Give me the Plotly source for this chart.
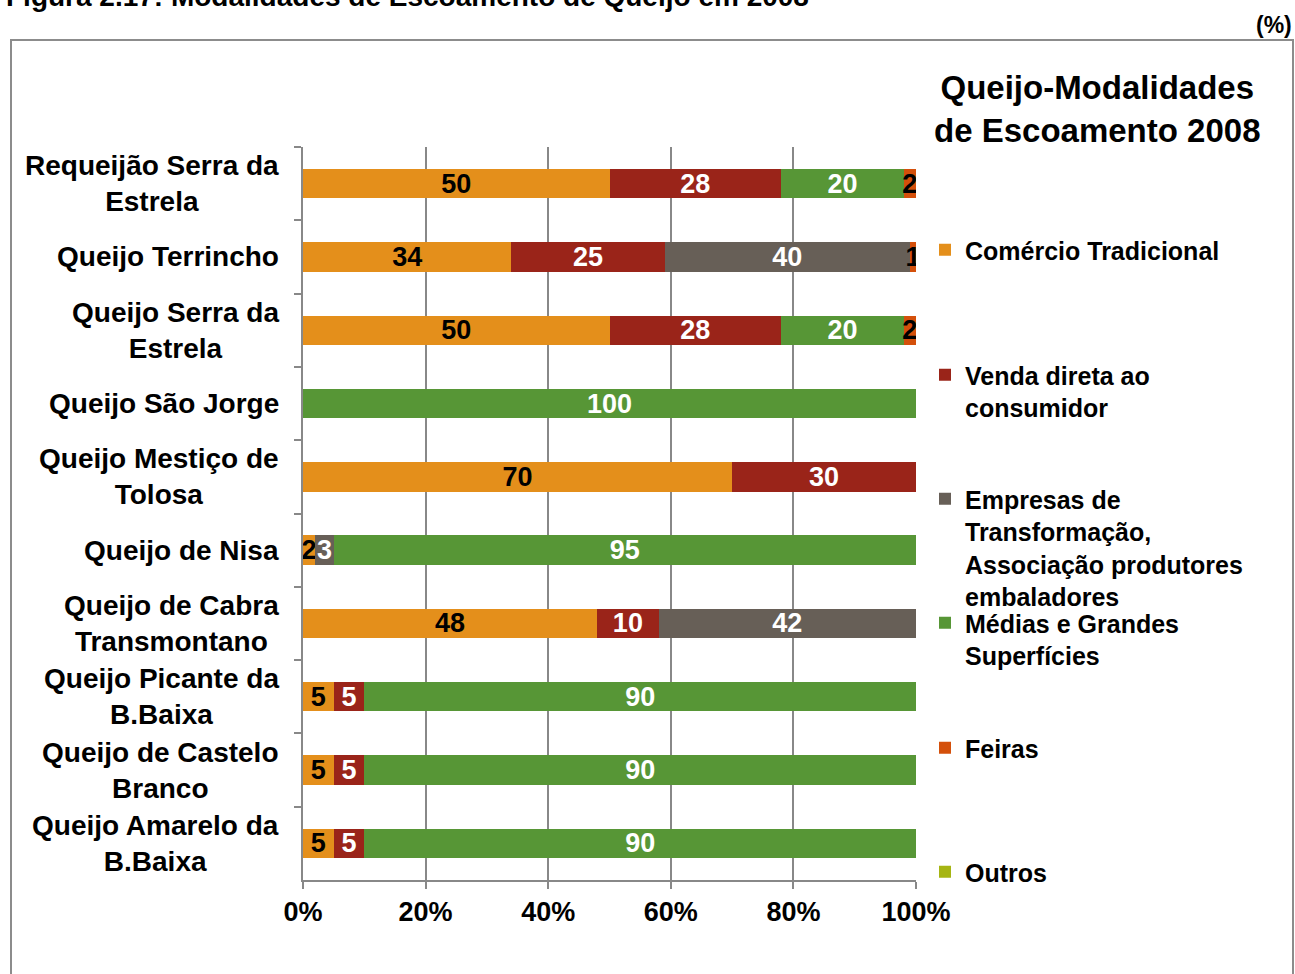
import plotly.graph_objects as go

categories = ["Requeijão Serra da Estrela", "Queijo Terrincho", "Queijo Serra da Estrela",
              "Queijo São Jorge", "Queijo Mestiço de Tolosa", "Queijo de Nisa",
              "Queijo de Cabra Transmontano", "Queijo Picante da B.Baixa",
              "Queijo de Castelo Branco", "Queijo Amarelo da B.Baixa"]
category_labels = ["Requeijão Serra da<br>Estrela", "Queijo Terrincho", "Queijo Serra da<br>Estrela",
                   "Queijo São Jorge", "Queijo Mestiço de<br>Tolosa", "Queijo de Nisa",
                   "Queijo de Cabra<br>Transmontano", "Queijo Picante da<br>B.Baixa",
                   "Queijo de Castelo<br>Branco", "Queijo Amarelo da<br>B.Baixa"]

comercio = [50, 34, 50, 0, 70, 2, 48, 5, 5, 5]
venda = [28, 25, 28, 0, 30, 0, 10, 5, 5, 5]
empresas = [0, 40, 0, 0, 0, 3, 42, 0, 0, 0]
medias = [20, 0, 20, 100, 0, 95, 0, 90, 90, 90]
feiras = [2, 1, 2, 0, 0, 0, 0, 0, 0, 0]
outros = [0, 0, 0, 0, 0, 0, 0, 0, 0, 0]

series_names = ["Comércio Tradicional", "Venda direta ao<br>consumidor",
                "Empresas de<br>Transformação,<br>Associação produtores<br>embaladores",
                "Médias e Grandes<br>Superfícies", "Feiras", "Outros"]
series_values = [comercio, venda, empresas, medias, feiras, outros]
colors = ["#E48F1B", "#9A2419", "#675F57", "#579636", "#D4500B", "#A6B513"]
text_colors = ["black", "white", "white", "white", "black", "black"]
x_ticks = [0, 20, 40, 60, 80, 100]
x_tick_labels = ["0%", "20%", "40%", "60%", "80%", "100%"]

FONT = "Liberation Sans, Arial, sans-serif"
W, H = 1295, 974
L, R, T, B = 303, 916, 147, 880
PW, PH = R - L, B - T

def px(x):
    return (x - L) / PW

def py(y):
    return (B - y) / PH

legend_first_line = [251, 376, 500, 624, 749, 873]

fig = go.Figure()
for i, (name, vals) in enumerate(zip(series_names, series_values)):
    fig.add_trace(go.Bar(
        y=categories, x=vals, orientation="h", name=name,
        marker=dict(color=colors[i], line=dict(width=0)),
        text=[str(v) if v else "" for v in vals],
        textposition="inside", insidetextanchor="middle", textangle=0,
        insidetextfont=dict(family=FONT, size=27, color=text_colors[i], weight="bold"),
        legend="legend" if i == 0 else f"legend{i+1}",
        hoverinfo="x+y+name",
    ))

layout_legends = {}
for i, yc in enumerate(legend_first_line):
    key = "legend" if i == 0 else f"legend{i+1}"
    layout_legends[key] = dict(
        x=px(925), xanchor="left", y=py(yc - 24), yanchor="top",
        valign="top", bgcolor="rgba(0,0,0,0)", borderwidth=0,
        font=dict(family=FONT, size=25, color="black", weight="bold"),
        traceorder="normal",
    )

annotations = []
for cat, lab in zip(categories, category_labels):
    annotations.append(dict(
        x=0, xref="paper", y=cat, yref="y", xanchor="right", yanchor="middle",
        xshift=-22, text=lab, showarrow=False, align="center",
        font=dict(family=FONT, size=28, color="black", weight="bold"),
    ))
annotations.append(dict(
    x=px(1097), xref="paper", y=py(109), yref="paper", xanchor="center", yanchor="middle",
    text="Queijo-Modalidades<br>de Escoamento 2008", showarrow=False, align="center",
    font=dict(family=FONT, size=33, color="black", weight="bold"),
))
annotations.append(dict(
    x=px(1294), xref="paper", y=py(25), yref="paper", xanchor="right", yanchor="middle",
    text="(%)", showarrow=False,
    font=dict(family=FONT, size=23, color="black", weight="bold"),
))
annotations.append(dict(
    x=px(4), xref="paper", y=py(-4), yref="paper", xanchor="left", yanchor="middle",
    text="Figura 2.17: Modalidades de Escoamento de Queijo em 2008", showarrow=False,
    font=dict(family=FONT, size=28, color="black", weight="bold"),
))

fig.update_layout(
    width=W, height=H,
    margin=dict(l=L, r=W - R, t=T, b=H - B, autoexpand=False),
    paper_bgcolor="white", plot_bgcolor="white",
    barmode="stack", bargap=0.6,
    font=dict(family=FONT, color="black", weight="bold"),
    showlegend=True,
    uniformtext=dict(mode="show", minsize=27),
    annotations=annotations,
    shapes=[dict(type="rect", xref="paper", yref="paper",
                 x0=px(11), x1=px(1293), y0=py(990), y1=py(40),
                 line=dict(color="#8C8C8C", width=2), fillcolor="rgba(0,0,0,0)", layer="below")],
    xaxis=dict(range=[0, 100], tickmode="array", tickvals=x_ticks, ticktext=x_tick_labels,
               tickfont=dict(family=FONT, size=27, color="black", weight="bold"),
               showgrid=True, gridcolor="#888888", gridwidth=1.5,
               ticks="outside", ticklen=7, tickcolor="#888888", tickwidth=1.5,
               showline=True, linecolor="#888888", linewidth=1.5, zeroline=False,
               fixedrange=True),
    yaxis=dict(type="category", categoryorder="array", categoryarray=categories,
               autorange="reversed", showticklabels=False,
               ticks="outside", tickson="boundaries", ticklen=7, tickcolor="#888888", tickwidth=1.5,
               showline=True, linecolor="#888888", linewidth=1.5, showgrid=False,
               fixedrange=True),
    **layout_legends,
)

fig.write_html("out.html", config={"displayModeBar": False},
               post_script="document.body.style.margin='0px';document.body.style.overflow='hidden';")
